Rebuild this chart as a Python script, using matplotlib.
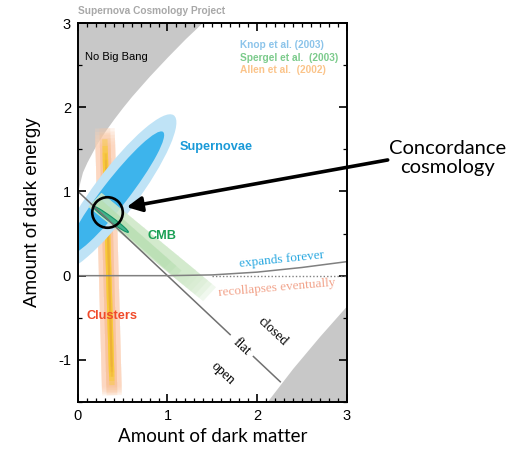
import numpy as np
import matplotlib
matplotlib.use('Agg')
import matplotlib.pyplot as plt
from matplotlib.patches import Ellipse, Polygon
from matplotlib.ticker import MultipleLocator

plt.rcParams['axes.unicode_minus'] = False

# --- data ---
# "No Big Bang" boundary (Omega_m, Omega_Lambda)
nbb_om = [0, 0.02, 0.05, 0.1, 0.2, 0.3, 0.4, 0.5, 0.6, 0.8, 1.0, 1.2, 1.35, 1.4]
nbb_ol = [1.0, 1.105, 1.23, 1.348, 1.547, 1.713, 1.861, 2.0, 2.131, 2.372, 2.598, 2.815, 2.966, 3.02]
# lower right grey region
young_om = [2.11, 2.4, 2.7, 3.0]
young_ol = [-1.5, -1.1, -0.72, -0.36]
# expands / recollapses boundary
expand_om = [0, 1.0, 1.5, 2.0, 2.5, 3.0]
expand_ol = [0, 0, 0.009, 0.042, 0.097, 0.166]
# flat universe line (drawn in two pieces around the label)
flat_pieces = [(0.0, 1.70), (1.96, 2.26)]

# confidence regions: centre, half length, half width, angle (deg)
sn_center = (0.42, 0.98)
sn_outer = (1.13, 0.25, 55)
sn_inner = (0.90, 0.15, 54)
cmb_center = (0.365, 0.67)
cmb_core = (0.25, 0.028, -38)
# bands: start point, end point
clusters_ends = [(0.30, 1.75), (0.38, -1.42)]
cmb_ends = [(0.19, 0.90), (1.47, -0.22)]
concordance = (0.32, 0.755)

legend_labels = ['Knop et al. (2003)', 'Spergel et al.  (2003)', 'Allen et al.  (2002)']
legend_colors = ['#8cc4ea', '#7ccb8c', '#fbc48a']


def band(ax, p0, p1, hw, color, alpha, steps, shrink0, shrink1, z):
    # rectangle along p0->p1, stacked with shrinking ends so the ends fade
    p0 = np.array(p0, float)
    p1 = np.array(p1, float)
    d = (p1 - p0) / np.hypot(*(p1 - p0))
    n = np.array([-d[1], d[0]])
    for k in range(steps):
        a = p0 + d * shrink0 * k
        b = p1 - d * shrink1 * k
        pts = [a + n * hw, b + n * hw, b - n * hw, a - n * hw]
        ax.add_patch(Polygon(pts, closed=True, fc=color, ec='none', alpha=alpha, zorder=z))


fig = plt.figure(figsize=(5.22, 4.49), dpi=100)
ax = fig.add_axes([0.1494, 0.1047, 0.5144, 0.844])
ax.set_xlim(0, 3)
ax.set_ylim(-1.5, 3)

# grey forbidden regions
ax.fill_between(nbb_om, nbb_ol, 3.2, color='#c8c8c8', lw=0, zorder=0)
ax.fill_between(young_om, young_ol, -1.6, color='#c8c8c8', lw=0, zorder=0)

# clusters
band(ax, clusters_ends[0], clusters_ends[1], 0.11, '#fcd2b6', 0.25, 6, 0.04, 0.02, 1)
band(ax, clusters_ends[0], clusters_ends[1], 0.06, '#f9bf92', 0.22, 5, 0.06, 0.03, 1.1)
band(ax, (0.30, 1.62), (0.38, -1.3), 0.03, '#f8cc2a', 0.4, 4, 0.08, 0.05, 1.2)
band(ax, (0.31, 1.45), (0.38, -1.2), 0.012, '#eaa83a', 0.35, 3, 0.08, 0.06, 1.3)

# supernovae
ax.add_patch(Ellipse(sn_center, 2 * sn_outer[0], 2 * sn_outer[1], angle=sn_outer[2],
                     fc='#bfe3f6', ec='none', zorder=2))
ax.add_patch(Ellipse(sn_center, 2 * sn_inner[0], 2 * sn_inner[1], angle=sn_inner[2],
                     fc='#3db4ec', ec='none', zorder=2.1))

# CMB
band(ax, cmb_ends[0], cmb_ends[1], 0.11, '#cfe9c9', 0.3, 6, 0.0, 0.06, 3)
band(ax, (0.22, 0.86), (1.12, 0.02), 0.055, '#b7dfb1', 0.4, 3, 0.0, 0.08, 3.1)
ax.add_patch(Ellipse(cmb_center, 2 * cmb_core[0], 2 * cmb_core[1], angle=cmb_core[2],
                     fc='#45b48c', ec='#119066', lw=0.8, zorder=3.2))

# lines
for a, b in flat_pieces:
    xs = np.array([a, b])
    ax.plot(xs, 1 - xs, color='#707070', lw=1.1, zorder=4)
ax.plot(expand_om, expand_ol, color='#808080', lw=1.1, zorder=4)
ax.plot([1.5, 3.0], [0, 0], color='#808080', lw=1.0, ls=(0, (1, 1.5)), zorder=4)

# concordance circle and arrow
ax.plot(*concordance, 'o', mfc='none', mec='k', ms=22, mew=1.9, zorder=6)
ax.annotate('', xy=(0.544, 0.814), xytext=(3.46, 1.374),
            arrowprops=dict(arrowstyle='-|>,head_length=0.9,head_width=0.45', lw=2.6, color='k',
                            shrinkA=0, shrinkB=0),
            annotation_clip=False, zorder=7)

# labels inside the plot
sans = ['Liberation Sans', 'DejaVu Sans']
serif = ['Liberation Serif', 'DejaVu Serif']
ax.text(0.075, 2.6, 'No Big Bang', fontsize=8, family=sans, va='center', zorder=5)
for i, (lab, col) in enumerate(zip(legend_labels, legend_colors)):
    ax.text(1.807, 2.739 - i * 0.15, lab, color=col, fontsize=7.3, weight='bold',
            family=sans, va='center', zorder=5)
ax.text(1.136, 1.53, 'Supernovae', color='#1a9ad8', fontsize=9.2, weight='bold',
        family=sans, va='center', zorder=5)
ax.text(0.78, 0.47, 'CMB', color='#1aa055', fontsize=9.2, weight='bold',
        family=sans, va='center', zorder=5)
ax.text(0.097, -0.48, 'Clusters', color='#f04a2a', fontsize=9.2, weight='bold',
        family=sans, va='center', zorder=5)
ax.text(2.276, 0.19, 'expands forever', color='#2aa8e0', fontsize=9.5, family=serif,
        rotation=6, ha='center', va='center', zorder=5)
ax.text(2.22, -0.15, 'recollapses eventually', color='#f2a48c', fontsize=9.5, family=serif,
        rotation=5, ha='center', va='center', zorder=5)
ax.text(2.175, -0.667, 'closed', fontsize=10, family=serif, rotation=-43,
        ha='center', va='center', zorder=5)
ax.text(1.83, -0.85, 'flat', fontsize=10, family=serif, rotation=-43,
        ha='center', va='center', zorder=5)
ax.text(1.617, -1.156, 'open', fontsize=10, family=serif, rotation=-43,
        ha='center', va='center', zorder=5)

# axes styling
ax.xaxis.set_major_locator(MultipleLocator(1))
ax.xaxis.set_minor_locator(MultipleLocator(0.1))
ax.yaxis.set_major_locator(MultipleLocator(1))
ax.yaxis.set_minor_locator(MultipleLocator(0.5))
ax.tick_params(which='both', direction='in', top=True, right=True)
ax.tick_params(which='major', length=6, width=1.2, labelsize=10.5, pad=5)
ax.tick_params(which='minor', length=3, width=0.9)
for s in ax.spines.values():
    s.set_linewidth(1.4)
    s.set_zorder(8)
for lab in ax.get_xticklabels() + ax.get_yticklabels():
    lab.set_family(sans)

fig.text(78 / 522, 1 - 11 / 449, 'Supernova Cosmology Project', color='#a8a8a8',
         fontsize=7.3, weight='bold', family=sans, va='center')
fig.text(0.5144 / 2 + 0.1494, 0.027, 'Amount of dark matter', fontsize=13.5,
         family=['Lato', 'DejaVu Sans'], ha='center', va='center')
fig.text(0.063, 0.1047 + 0.844 / 2, 'Amount of dark energy', fontsize=13.5,
         family=sans, rotation=90, ha='center', va='center')
fig.text(0.858, 0.648, 'Concordance\ncosmology', fontsize=14.5, family=['Lato', 'DejaVu Sans'],
         ha='center', va='center', linespacing=1.1)

fig.savefig('out.png', dpi=100)
